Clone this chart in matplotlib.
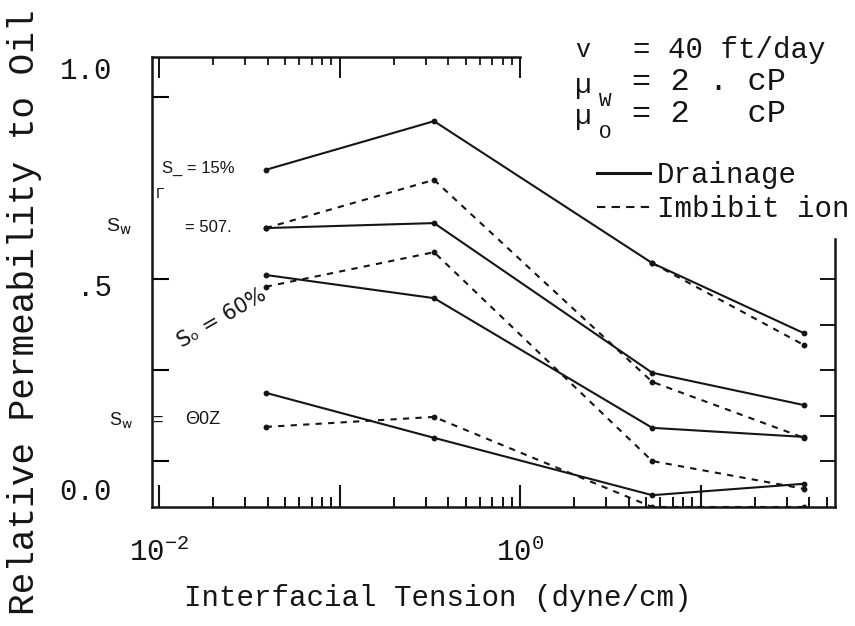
import numpy as np
import matplotlib
matplotlib.use("Agg")
import matplotlib.pyplot as plt
from matplotlib.lines import Line2D
from matplotlib.ticker import FixedLocator, NullFormatter, FixedFormatter

plt.rcParams['mathtext.fontset'] = 'custom'
plt.rcParams['mathtext.tt'] = 'Liberation Mono'
plt.rcParams['mathtext.rm'] = 'Liberation Mono'

# ---------------- data ----------------
ift = [0.039, 0.334, 5.4, 37.4]   # interfacial tension, dyne/cm

drain_15 = [0.741, 0.848, 0.536, 0.382]
drain_50 = [0.613, 0.624, 0.295, 0.224]
drain_60 = [0.510, 0.459, 0.174, 0.154]
drain_80 = [0.251, 0.152, 0.026, 0.051]

imb_15 = [np.nan, np.nan, 0.536, 0.356]
imb_50 = [0.613, 0.719, 0.275, 0.152]
imb_60 = [0.484, 0.560, 0.101, 0.040]
imb_80 = [0.176, 0.198, 0.000, 0.000]

x_major = [1e-2, 1e-1, 1e0, 1e1]
x_major_labels = [r"$\mathtt{10^{-2}}$", "", r"$\mathtt{10^{0}}$", ""]
y_ticks_left = [0.1, 0.3, 0.5, 0.9]
y_ticks_right = [0.1, 0.2, 0.3, 0.4, 0.5]
y_label_text = ["1.0", ".5", "0.0"]
y_label_pos = [0.958, 0.481, 0.033]

W, H = 855, 626
fig = plt.figure(figsize=(W / 100, H / 100), dpi=100)
ax = fig.add_axes([152 / W, 1 - 507 / H, (835 - 152) / W, (507 - 57) / H])

ink = '#151515'
mono = 'Liberation Mono'
sans = 'Liberation Sans'

for ys in [drain_15, drain_50, drain_60, drain_80]:
    ax.plot(ift, ys, color=ink, lw=1.5, marker='o', ms=3.2, solid_joinstyle='miter')
for ys in [imb_15, imb_50, imb_60, imb_80]:
    ax.plot(ift, ys, color=ink, lw=1.5, ls=(0, (3, 3)), marker='o', ms=3.2)

ax.set_xscale('log')
ax.set_xlim(10 ** -2.0388, 10 ** 1.745)
ax.set_ylim(0, 0.989)

# spines
for s in ax.spines.values():
    s.set_linewidth(1.8)
    s.set_color(ink)
ax.spines['top'].set_bounds(10 ** -2.0388, 1.0)
ax.spines['right'].set_bounds(0, 0.59)

# bottom ticks
minor = []
for d in [-3, -2, -1, 0, 1]:
    for k in range(2, 10):
        v = k * 10 ** d
        if 10 ** -2.0388 < v < 10 ** 1.745:
            minor.append(v)
ax.xaxis.set_major_locator(FixedLocator(x_major))
ax.xaxis.set_major_formatter(FixedFormatter(x_major_labels))
ax.xaxis.set_minor_locator(FixedLocator(minor))
ax.xaxis.set_minor_formatter(NullFormatter())
ax.tick_params(axis='x', which='major', direction='in', length=16, width=1.5,
               pad=22, labelsize=21, colors=ink)
ax.tick_params(axis='x', which='minor', direction='in', length=7, width=1.3)

# left ticks
ax.set_yticks(y_ticks_left)
ax.set_yticklabels([])
ax.tick_params(axis='y', which='major', direction='in', length=12, width=1.5)

# top ticks restricted to left part
sec = ax.secondary_xaxis('top')
sec.xaxis.set_major_locator(FixedLocator([v for v in x_major if v <= 1.0]))
sec.xaxis.set_minor_locator(FixedLocator([v for v in minor if v <= 1.0]))
sec.xaxis.set_major_formatter(NullFormatter())
sec.xaxis.set_minor_formatter(NullFormatter())
sec.tick_params(which='major', direction='in', length=15, width=1.3)
sec.tick_params(which='minor', direction='in', length=6, width=1.2)
sec.spines['top'].set_visible(False)

# right ticks restricted
secy = ax.secondary_yaxis('right')
secy.set_yticks(y_ticks_right)
secy.set_yticklabels([])
secy.tick_params(direction='in', length=11, width=1.3)
secy.spines['right'].set_visible(False)

# y tick labels
for t, v in zip(y_label_text, y_label_pos):
    ax.text(-0.0586, v, t, transform=ax.get_yaxis_transform(), ha='right',
            va='center', fontsize=21, family=mono, color=ink)

# axis labels
fig.text(438 / W, 1 - 598 / H, "Interfacial Tension (dyne/cm)", ha='center',
         va='center', fontsize=21, family=mono, color=ink)
fig.text(25 / W, 1 - 312 / H, "Relative Permeability to Oil", ha='center',
         va='center', rotation=90, fontsize=26, family=mono, color=ink)

# condition annotations
fig.text(583 / W, 1 - 50 / H, "v", ha='center', va='center', fontsize=18,
         family=mono, color=ink)
fig.text(633 / W, 1 - 50 / H, "= 40 ft/day", ha='left', va='center',
         fontsize=21, family=mono, color=ink)
fig.text(583 / W, 1 - 86 / H, "\u00b5", ha='center', va='center', fontsize=20,
         family=mono, color=ink)
fig.text(605 / W, 1 - 101 / H, "W", ha='center', va='center', fontsize=15,
         family=mono, color=ink)
fig.text(632 / W, 1 - 82 / H, "= 2 . cP", ha='left', va='center',
         fontsize=23, family=mono, color=ink)
fig.text(583 / W, 1 - 117 / H, "\u00b5", ha='center', va='center', fontsize=20,
         family=mono, color=ink)
fig.text(605 / W, 1 - 132 / H, "O", ha='center', va='center', fontsize=15,
         family=mono, color=ink)
fig.text(632 / W, 1 - 114 / H, "= 2   cP", ha='left', va='center',
         fontsize=23, family=mono, color=ink)

# legend
handles = [Line2D([], [], color=ink, lw=2.2),
           Line2D([], [], color=ink, lw=1.5, ls=(0, (4, 3)))]
leg = ax.legend(handles, ["Drainage", "Imbibit ion"], loc='upper left',
                bbox_to_anchor=(597 / W, 1 - 161 / H),
                bbox_transform=fig.transFigure, frameon=False,
                prop={'family': mono, 'size': 21}, handlelength=1.8,
                handletextpad=0.25, labelspacing=0.2, borderpad=0,
                borderaxespad=0)
for t in leg.get_texts():
    t.set_color(ink)

# curve labels
fig.text(162 / W, 1 - 168 / H, "S_ = 15%", ha='left', va='center',
         fontsize=12, family=sans, color=ink)
fig.text(160 / W, 1 - 194 / H, "\u0393", ha='center', va='center',
         fontsize=11, family=sans, color=ink)
fig.text(106 / W, 1 - 227 / H, r"S$_\mathsf{w}$", ha='left', va='center',
         fontsize=14, family=sans, color=ink)
fig.text(185 / W, 1 - 227 / H, "= 507.", ha='left', va='center',
         fontsize=12, family=sans, color=ink)
fig.text(222 / W, 1 - 318 / H, "S\u2092 = 60%", ha='center', va='center',
         rotation=30, fontsize=15, family='DejaVu Sans', color=ink)
fig.text(109 / W, 1 - 420 / H, r"S$_\mathsf{w}$", ha='left',
         va='center', fontsize=13, family=sans, color=ink)
fig.text(152 / W, 1 - 420 / H, "=", ha='left',
         va='center', fontsize=13, family=sans, color=ink)
fig.text(185 / W, 1 - 420 / H, "\u03980Z", ha='left',
         va='center', fontsize=13, family=sans, color=ink)

fig.savefig("out.png", dpi=100)
